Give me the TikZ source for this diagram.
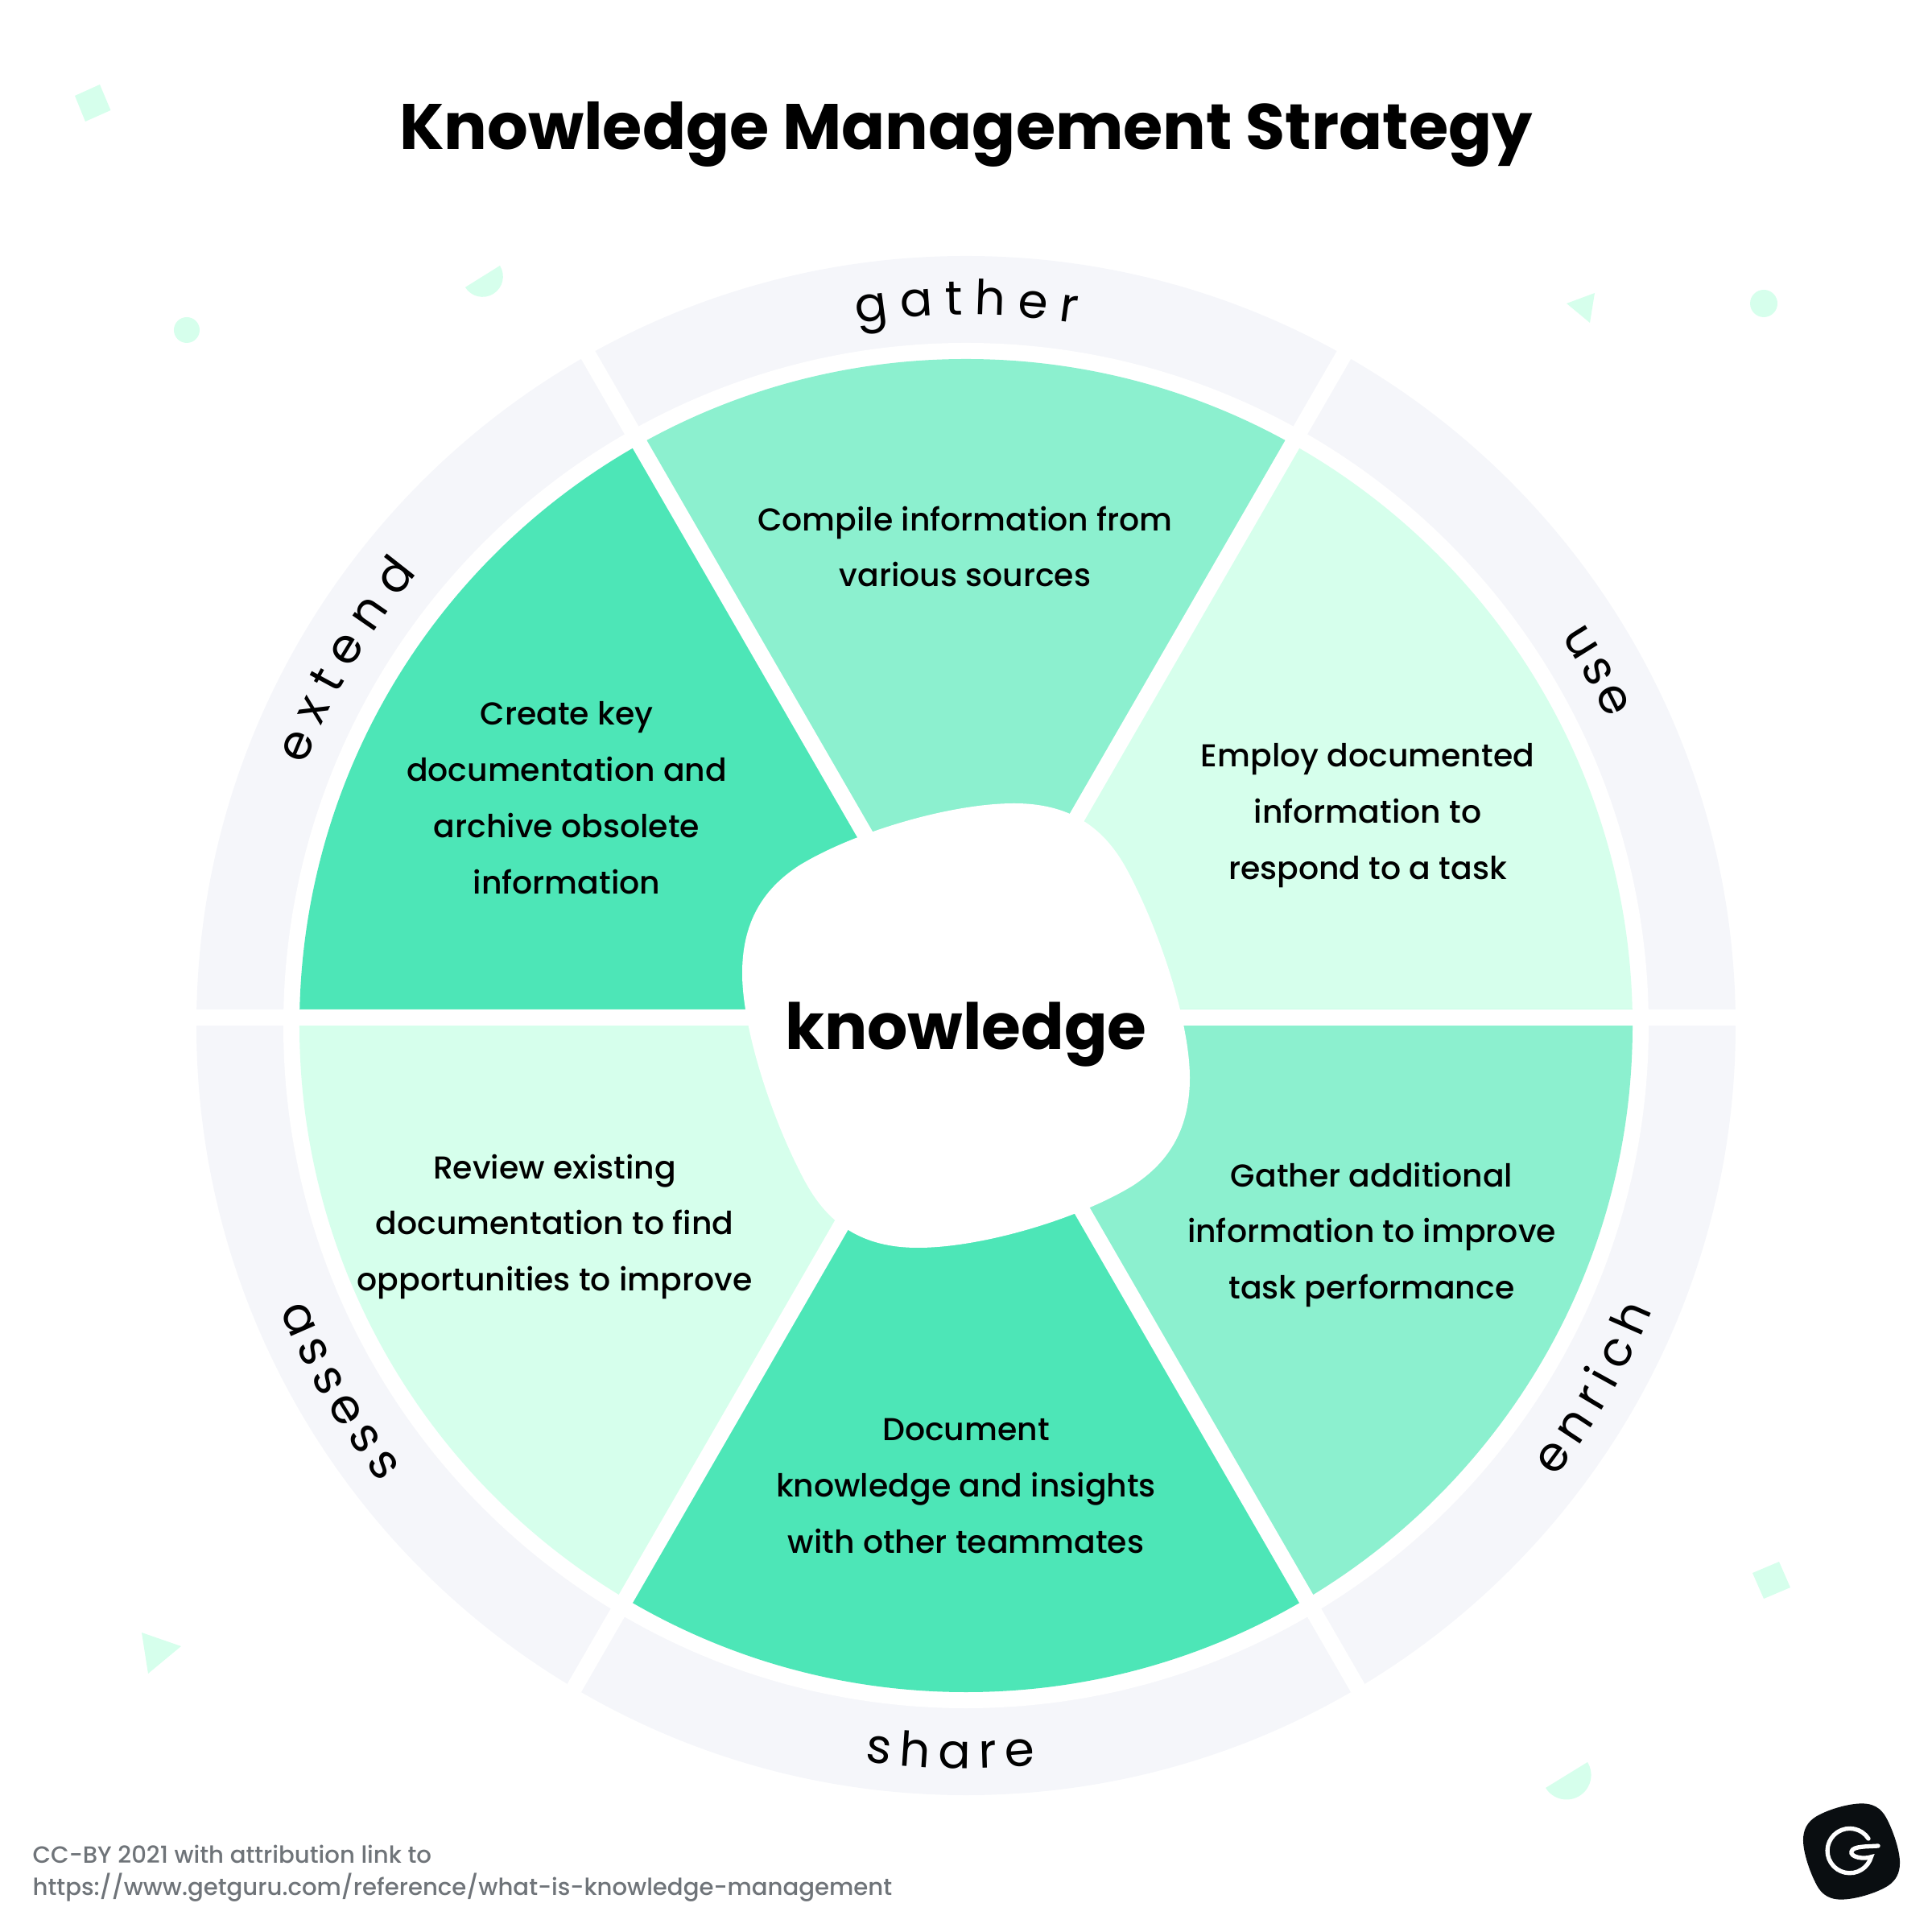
\documentclass[tikz,border=0pt]{standalone}
\usepackage{fontspec}
\usetikzlibrary{decorations.text}
\setmainfont{Poppins}[UprightFont=*-Medium, BoldFont=*-Bold]
\newfontfamily\ringfont{Poppins}
\definecolor{ringgrey}{HTML}{F5F6FA}
\definecolor{mintdark}{HTML}{4DE6B7}
\definecolor{mintmid}{HTML}{8CF0CF}
\definecolor{mintpale}{HTML}{D6FFEC}
\definecolor{footgrey}{HTML}{6F7479}
\definecolor{logoblack}{HTML}{0A0E11}
\newcommand{\wheelblob}{(-2.78,0.65) .. controls (-2.78,1.25) and (-2.55,1.68) .. (-2.07,1.99)
    .. controls (-1.4,2.4) and (-0.2,2.76) .. (0.6,2.76)
    .. controls (1.5,2.76) and (1.85,2.25) .. (2.07,1.8)
    .. controls (2.45,1.05) and (2.78,0) .. (2.78,-0.65)
    .. controls (2.78,-1.25) and (2.55,-1.68) .. (2.07,-1.99)
    .. controls (1.4,-2.4) and (0.2,-2.76) .. (-0.6,-2.76)
    .. controls (-1.5,-2.76) and (-1.85,-2.25) .. (-2.07,-1.8)
    .. controls (-2.45,-1.05) and (-2.78,0) .. (-2.78,0.65) -- cycle}

\begin{document}
\begin{tikzpicture}[
    wedge/.style={fill=#1},
    gapline/.style={white, line width=0.2cm},
    confetti/.style={fill=mintpale},
    blurb/.style={align=center, text=black, font=\fontsize{11.2}{19.9}\selectfont},
    ringtext/.style={decorate, decoration={text along path, text align=fit to path,
                text format delimiters={|}{|}, text={|\ringfont\fontsize{17}{20}\selectfont|#1}}}
]
\useasboundingbox (-12,-11.26) rectangle (12,12.74);
\coordinate (hub) at (0,0);
\coordinate (apex) at (0,0.2);

% Outer band and its white inner edge
\fill[ringgrey] (hub) circle (9.56);
\fill[white] (hub) circle (8.48);

% Six wedges
\begin{scope}
\clip (hub) circle (8.28);
\foreach \ang/\col in {0/mintpale, 60/mintmid, 120/mintdark, 180/mintpale, 240/mintdark, 300/mintmid}
    \fill[wedge=\col] (apex) -- ++(\ang:14) -- ++(\ang+120:14) -- cycle;
\end{scope}

% White gaps
\draw[gapline] (-10,0.1) -- (10,0.1);
\foreach \ang in {60,120}
    \draw[gapline] (apex) ++(\ang:11) -- ++(\ang+180:22);

% Centre blob
\fill[white] \wheelblob;

\node[anchor=base, font=\fontsize{22.7}{26}\selectfont\bfseries] (title) at (0,10.88) {Knowledge Management Strategy};
\node[anchor=base, font=\fontsize{22.5}{26}\selectfont\bfseries] (core) at (0,-0.30) {knowledge};

\node[blurb] (gatherText) at (-0.01,5.95) {Compile information from\\various sources};
\node[blurb] (useText) at (4.99,2.61) {Employ documented\\information to\\respond to a task};
\node[blurb] (enrichText) at (5.04,-2.60) {Gather additional\\information to improve\\task performance};
\node[blurb] (shareText) at (0,-5.72) {Document\\knowledge and insights\\with other teammates};
\node[blurb] (assessText) at (-5.11,-2.50) {Review existing\\documentation to find\\opportunities to improve};
\node[blurb] (extendText) at (-4.96,2.83) {Create key\\documentation and\\archive obsolete\\information};

% Words on the band
\path[ringtext=gather] (98.8:8.83) arc[start angle=98.8, end angle=81.1, radius=8.83];
\path[ringtext=use] (33.2:8.83) arc[start angle=33.2, end angle=25.5, radius=8.83];
\path[ringtext=extend] (158.5:8.83) arc[start angle=158.5, end angle=140.5, radius=8.83];
\path[ringtext=share] (262.2:9.23) arc[start angle=262.2, end angle=275.4, radius=9.23];
\path[ringtext=enrich] (-37.5:9.23) arc[start angle=-37.5, end angle=-22.5, radius=9.23];
\path[ringtext=assess] (202.5:9.23) arc[start angle=202.5, end angle=218, radius=9.23];

% Loose shapes around the wheel
\fill[confetti] (-11.07,11.55) -- (-10.76,11.69) -- (-10.625,11.37) -- (-10.94,11.23) -- cycle;
\fill[confetti] (-5.79,9.44) arc[start angle=32, end angle=-148, radius=0.254] -- cycle;
\fill[confetti] (-9.68,8.64) circle (0.16);
\fill[confetti] (7.46,8.97) -- (7.81,9.10) -- (7.75,8.73) -- cycle;
\fill[confetti] (9.91,8.97) circle (0.17);
\fill[confetti] (9.77,-6.80) -- (10.10,-6.66) -- (10.24,-6.98) -- (9.91,-7.12) -- cycle;
\fill[confetti] (7.72,-9.15) arc[start angle=31.6, end angle=-148.4, radius=0.305] -- cycle;
\fill[confetti] (-10.24,-7.54) -- (-9.75,-7.71) -- (-10.16,-8.05) -- cycle;

\node[anchor=west, align=left, inner sep=0pt, text=footgrey, font=\fontsize{8.3}{11.4}\selectfont] (credit) at (-11.6,-10.53)
    {CC-BY 2021 with attribution link to\\https://www.getguru.com/reference/what-is-knowledge-management};

% Logo
\fill[logoblack, shift={(11,-10.26)}, scale=0.216] \wheelblob;
\draw[white, line width=0.053cm, line cap=round] (11.21,-10.10) arc[start angle=33, end angle=344, radius=0.277]
    .. controls (11.15,-10.36) and (10.98,-10.33) .. (11.0,-10.26)
    .. controls (11.02,-10.19) and (11.2,-10.2) .. (11.33,-10.19);
\end{tikzpicture}
\end{document}
